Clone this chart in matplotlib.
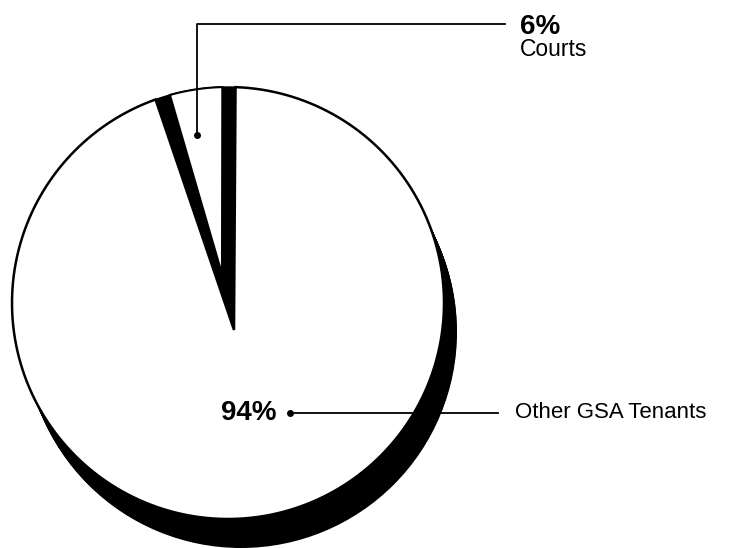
import numpy as np
import matplotlib.pyplot as plt
from matplotlib.patches import Polygon, Circle

plt.rcParams['font.family'] = ['Liberation Sans', 'DejaVu Sans']

# data
shares = [94, 6]
slice_names = ['Other GSA Tenants', 'Courts']
pct_labels = ['94%', '6%']

# pie geometry in pixel coords (y down)
cx, cy, r = 228, 303, 216
apex = (234, 330)
start = 88.0            # degrees, right edge of the Courts slot
depth = (13, 29)        # shadow / extrusion offset

courts_span = shares[1] / sum(shares) * 360.0


def arc(t0, t1, n=200):
    th = np.radians(np.linspace(t0, t1, n))
    return np.column_stack([cx + r * np.cos(th), cy - r * np.sin(th)])


fig = plt.figure(figsize=(7.29, 5.48), dpi=100)
ax = fig.add_axes([0, 0, 1, 1])
ax.set_xlim(0, 729)
ax.set_ylim(548, 0)
ax.axis('off')

# extruded black shadow under the pie
for t in np.linspace(0, 1, 40):
    ax.add_patch(Circle((cx + t * depth[0], cy + t * depth[1]), r,
                        facecolor='black', edgecolor='none', zorder=1))

# dark slot behind the Courts slice
slot = np.vstack([[apex], arc(start, start + courts_span)])
ax.add_patch(Polygon(slot, closed=True, facecolor='black',
                     edgecolor='black', lw=1.0, zorder=2))

# big slice (Other GSA Tenants)
big = np.vstack([[apex], arc(start + courts_span, start + 360)])
ax.add_patch(Polygon(big, closed=True, facecolor='white',
                     edgecolor='black', lw=1.8, joinstyle='miter', zorder=3))

# top face of the Courts slice, seen inside the slot
face_apex = (222, 274)
face = np.vstack([[face_apex], arc(start + 3.5, start + courts_span - 4.0)])
ax.add_patch(Polygon(face, closed=True, facecolor='white',
                     edgecolor='black', lw=1.5, zorder=4))

# leader: Courts
ax.plot([197, 197, 505], [135, 24, 24], color='black', lw=1.3, zorder=5)
ax.plot(197, 135, 'o', color='black', ms=4, zorder=5)
ax.text(520, 27, pct_labels[1], fontsize=20, fontweight='bold',
        ha='left', va='center', zorder=6)
ax.text(520, 50, slice_names[1], fontsize=16.5, ha='left', va='center', zorder=6)

# leader: Other GSA Tenants
ax.plot([290, 498], [413, 413], color='black', lw=1.3, zorder=5)
ax.plot(290, 413, 'o', color='black', ms=4, zorder=5)
ax.text(277, 413, pct_labels[0], fontsize=20, fontweight='bold',
        ha='right', va='center', zorder=6)
ax.text(515, 413, slice_names[0], fontsize=16, ha='left', va='center', zorder=6)

fig.savefig('out.png', dpi=100, facecolor='white')
